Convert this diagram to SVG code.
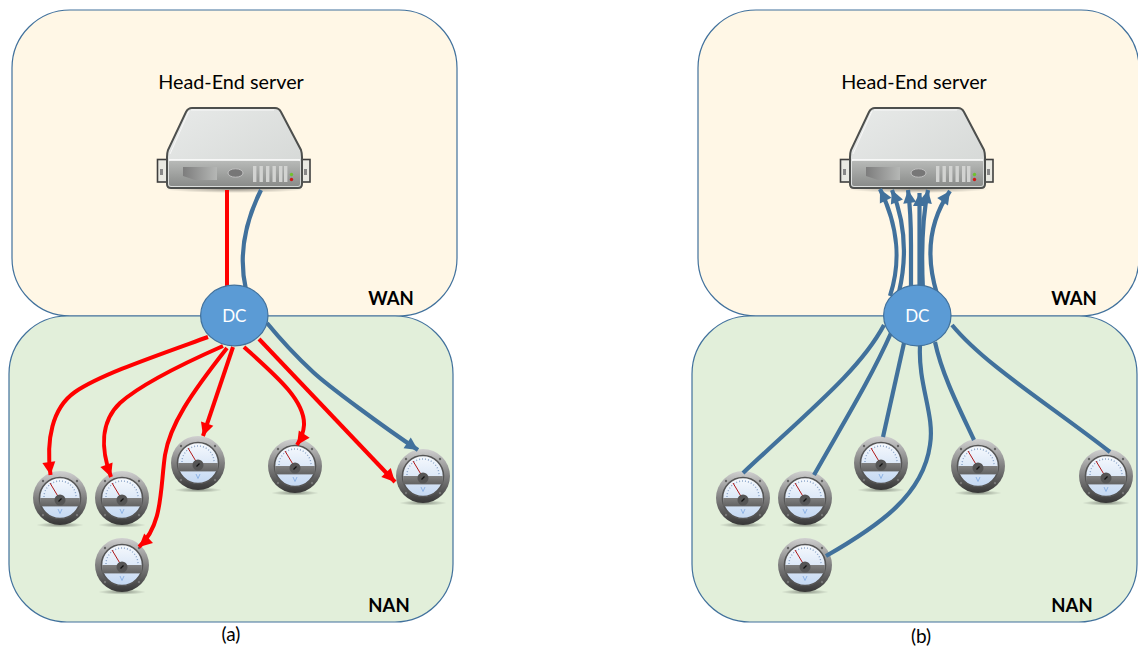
<svg xmlns="http://www.w3.org/2000/svg" width="1138" height="648" viewBox="0 0 1138 648">
<style>
.wan{fill:#fff7e6;stroke:#41719c;stroke-width:1.2}
.nan{fill:#e2efda;stroke:#41719c;stroke-width:1.2}
.dc{fill:#5b9bd5;stroke:#41719c;stroke-width:1.2}
.lbl{font-family:Lato,"Open Sans","Liberation Sans",sans-serif;fill:#000}
.title{font-size:19.8px;text-anchor:middle}
.zone{font-size:18.5px;font-weight:700;text-anchor:middle}
.cap{font-size:19px;text-anchor:middle}
.dct{font-family:Lato,"Open Sans","Liberation Sans",sans-serif;font-size:17px;fill:#fff;text-anchor:middle}
.r{fill:none;stroke:#f00;stroke-width:4}
.b{fill:none;stroke:#41719c;stroke-width:4.2}
.ra{marker-end:url(#ah-red)}
.ba{marker-end:url(#ah-blue)}
</style>
<defs>
<marker id="ah-red" markerUnits="userSpaceOnUse" markerWidth="16" markerHeight="16" refX="14" refY="8" orient="auto"><path d="M1,1.500 L14,8 L1,14.500 Z" fill="#f00"/></marker>
<marker id="ah-blue" markerUnits="userSpaceOnUse" markerWidth="16" markerHeight="16" refX="14" refY="8" orient="auto"><path d="M1,1.500 L14,8 L1,14.500 Z" fill="#41719c"/></marker>
<linearGradient id="g-ring" x1="0" y1="0" x2="0" y2="1"><stop offset="0" stop-color="#d0d0d0"/><stop offset="0.5" stop-color="#808080"/><stop offset="1" stop-color="#363636"/></linearGradient>
<linearGradient id="g-face" x1="0" y1="0" x2="0" y2="1"><stop offset="0" stop-color="#f6f9fd"/><stop offset="1" stop-color="#c4d8f2"/></linearGradient>
<linearGradient id="g-band" x1="0" y1="0" x2="0" y2="1"><stop offset="0" stop-color="#808080"/><stop offset="1" stop-color="#626262"/></linearGradient>
<linearGradient id="g-top" x1="0" y1="0" x2="1" y2="1"><stop offset="0" stop-color="#e8eae9"/><stop offset="1" stop-color="#d3d6d4"/></linearGradient>
<linearGradient id="g-front" x1="0" y1="0" x2="0" y2="1"><stop offset="0" stop-color="#b9bbb9"/><stop offset="1" stop-color="#8a8c8a"/></linearGradient>
<linearGradient id="g-rec" x1="0" y1="0" x2="1" y2="0"><stop offset="0" stop-color="#7d7d7d"/><stop offset="1" stop-color="#b5b7b5"/></linearGradient>
<radialGradient id="g-shadow"><stop offset="0" stop-color="#000" stop-opacity="0.4"/><stop offset="1" stop-color="#000" stop-opacity="0"/></radialGradient>
<g id="meter">
<ellipse cx="0" cy="27" rx="24" ry="2.600" fill="url(#g-shadow)"/>
<circle r="27" fill="url(#g-ring)"/>
<circle r="20.500" fill="url(#g-face)" stroke="#555" stroke-width="1.600"/>
<path d="M-16,-1 A16,16 0 0 1 16,-1" fill="none" stroke="#8aa4c8" stroke-width="1.400" stroke-dasharray="1 2"/>
<path d="M-10,-15 L-1,0" stroke="#b01818" stroke-width="1"/>
<rect x="-19.800" y="0" width="39.600" height="8.400" fill="url(#g-band)"/>
<circle cx="0" cy="2" r="5.500" fill="#555"/>
<path d="M-1.500,3.500 L1.500,0.500" stroke="#111" stroke-width="1.200"/>
<path d="M-2,11 L0,15.500 L2,11" fill="none" stroke="#8fb4e6" stroke-width="1"/>
<circle cx="-17" cy="-17" r="1.200" fill="#666"/><circle cx="17" cy="-17" r="1.200" fill="#666"/>
<circle cx="-17" cy="17" r="1.200" fill="#777"/><circle cx="17" cy="17" r="1.200" fill="#777"/>
</g>
<g id="server">
<ellipse cx="234.500" cy="189" rx="72" ry="4" fill="url(#g-shadow)"/>
<rect x="157.500" y="159.500" width="10" height="22.500" fill="#e9e9e2" stroke="#3f3f3f" stroke-width="1.600"/>
<rect x="301.500" y="159.500" width="8.500" height="22.500" fill="#e9e9e2" stroke="#3f3f3f" stroke-width="1.600"/>
<rect x="160" y="169" width="3" height="6" fill="#888"/>
<rect x="304" y="169" width="3" height="6" fill="#888"/>
<path d="M192,108 Q188,108 186,112 L168,150 Q167,153 167,157 L167,184 Q167,188 171,188 L298,188 Q302,188 302,184 L302,157 Q302,153 301,150 L281,112 Q279,108 275,108 Z" fill="url(#g-top)" stroke="#4d4f4d" stroke-width="2"/>
<path d="M191,110 L274,110" stroke="#f8f8f8" stroke-width="1"/>
<path d="M189,111 L170,154" stroke="#f8f8f8" stroke-width="1"/>
<rect x="169" y="160" width="131" height="26" rx="2" fill="url(#g-front)"/>
<path d="M169,160 H300" stroke="#fff" stroke-width="1.400"/>
<path d="M183,167 H217 L217,180 H195 L183,176 Z" fill="url(#g-rec)"/>
<ellipse cx="235.500" cy="173" rx="7.500" ry="4.200" fill="#777" stroke="#ccc" stroke-width="0.800"/>
<g fill="#d2d3d1"><rect x="253" y="166" width="3.400" height="16"/><rect x="259.500" y="166" width="3.400" height="16"/><rect x="266" y="166" width="3.400" height="16"/><rect x="272.500" y="166" width="3.400" height="16"/><rect x="279" y="166" width="3.400" height="16"/><rect x="284" y="166" width="3.400" height="16"/></g>
<circle cx="291.500" cy="174.500" r="1.700" fill="#6fc22e"/>
<circle cx="291.500" cy="179.500" r="1.700" fill="#d01818"/>
</g>
</defs>

<g id="panel-a">
<rect id="wan-a" class="wan" x="12" y="10" width="445" height="306" rx="58"/>
<rect id="nan-a" class="nan" x="9" y="316" width="444" height="306" rx="58"/>
</g>
<g id="panel-b">
<rect id="wan-b" class="wan" x="698" y="10" width="441" height="306" rx="58"/>
<rect id="nan-b" class="nan" x="692" y="316" width="445" height="306" rx="58"/>
</g>

<g id="server-a"><use href="#server"/></g>
<g id="server-b"><use href="#server" transform="translate(683,0)"/></g>

<g id="meters-a">
<g id="m-a1"><use href="#meter" transform="translate(60,498)"/></g>
<g id="m-a2"><use href="#meter" transform="translate(122,498)"/></g>
<g id="m-a3"><use href="#meter" transform="translate(122,565)"/></g>
<g id="m-a4"><use href="#meter" transform="translate(198,463)"/></g>
<g id="m-a5"><use href="#meter" transform="translate(295,466)"/></g>
<g id="m-a6"><use href="#meter" transform="translate(423,476)"/></g>
</g>
<g id="meters-b">
<g id="m-b1"><use href="#meter" transform="translate(743,498)"/></g>
<g id="m-b2"><use href="#meter" transform="translate(805,498)"/></g>
<g id="m-b3"><use href="#meter" transform="translate(805,565)"/></g>
<g id="m-b4"><use href="#meter" transform="translate(881,463)"/></g>
<g id="m-b5"><use href="#meter" transform="translate(978,466)"/></g>
<g id="m-b6"><use href="#meter" transform="translate(1106,476)"/></g>
</g>

<g id="connectors">
<path class="r" d="M227,190 V290"/>
<path class="b" d="M261,190 C246,220 238,255 246,290"/>
<path class="r ra" d="M208,337 C150,358 100,375 75,392 C52,408 46,440 50.500,475"/>
<path class="r ra" d="M223,346 C180,365 140,385 120,403 C100,422 101,450 111,477"/>
<path class="r ra" d="M227,348 C190,395 170,425 165,455 C160,490 163,525 139,547"/>
<path class="r ra" d="M233,347 L203,436"/>
<path class="r ra" d="M244,347 C275,375 305,400 304,425 C303.500,433 301,439 297,445"/>
<path class="r ra" d="M259,339 L395,482"/>
<path class="b ba" d="M267,323 C285,345 298,358 313,372 S385,428 418,450"/>
<path class="b ba" d="M890,296 C901,262 899,228 880,189"/>
<path class="b ba" d="M899,292 C907,258 905,222 892,190"/>
<path class="b ba" d="M911,290 L911,245 C911,225 910,205 908,190"/>
<path class="b ba" d="M919.500,290 V193"/>
<path class="b ba" d="M923,290 C921,250 923,215 928,190"/>
<path class="b ba" d="M937,294 C925,255 930,220 950,191"/>
<path class="b" d="M884,325 C860,370 810,410 743,473"/>
<path class="b" d="M891,333 C870,380 845,420 814,475"/>
<path class="b" d="M904,343 L883,437"/>
<path class="b" d="M920,346 C918,385 935,415 930,445 C923,495 880,525 826,556"/>
<path class="b" d="M935,342 C942,375 960,410 974,440"/>
<path class="b" d="M952,325 C985,365 1050,405 1110,452"/>
</g>

<g id="dc-a"><ellipse class="dc" cx="234.300" cy="315.500" rx="33.700" ry="30.300"/><text class="dct" x="234.300" y="322">DC</text></g>
<g id="dc-b"><ellipse class="dc" cx="917.300" cy="315.500" rx="33.700" ry="30.300"/><text class="dct" x="917.300" y="322">DC</text></g>

<g id="labels">
<text class="lbl title" x="231" y="89">Head-End server</text>
<text class="lbl title" x="914" y="89">Head-End server</text>
<text class="lbl zone" x="391" y="305">WAN</text>
<text class="lbl zone" x="1074" y="305">WAN</text>
<text class="lbl zone" x="389" y="612">NAN</text>
<text class="lbl zone" x="1072" y="612">NAN</text>
<text class="lbl cap" x="231" y="641">(a)</text>
<text class="lbl cap" x="921" y="643">(b)</text>
</g>
</svg>
